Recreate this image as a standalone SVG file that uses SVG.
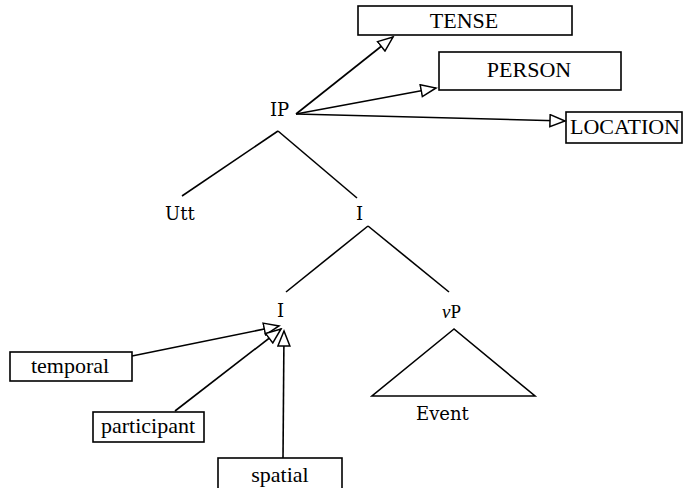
<svg xmlns="http://www.w3.org/2000/svg" width="683" height="488" viewBox="0 0 683 488">
  <defs>
    <style>
      .box { fill: #fff; stroke: #000; stroke-width: 1.6; }
      .btxt { font-family: "Liberation Serif", "Times New Roman", serif; font-size: 22px; fill: #000; text-anchor: middle; }
      .tree { font-family: "DejaVu Serif", "Liberation Serif", serif; font-size: 18px; fill: #000; }
      .edge { stroke: #000; stroke-width: 1.6; fill: none; }
      .arrow { stroke: #000; stroke-width: 1.6; fill: none; marker-end: url(#open); }
    </style>
    <marker id="open" markerUnits="userSpaceOnUse" markerWidth="18" markerHeight="14" refX="15" refY="6" orient="auto" viewBox="-1 -1 18 14">
      <path d="M0,0 L15,6 L0,12 Z" fill="#fff" stroke="#000" stroke-width="1.5" stroke-linejoin="miter"/>
    </marker>
  </defs>

  <!-- feature boxes -->
  <g id="tense">
    <rect class="box" x="358" y="6" width="214" height="29"/>
    <text class="btxt" x="464" y="28">TENSE</text>
  </g>
  <g id="person">
    <rect class="box" x="439" y="52" width="182" height="38"/>
    <text class="btxt" x="529" y="77">PERSON</text>
  </g>
  <g id="location">
    <rect class="box" x="566" y="112" width="116" height="31"/>
    <text class="btxt" x="625" y="134">LOCATION</text>
  </g>
  <g id="temporal">
    <rect class="box" x="10" y="352" width="122" height="29"/>
    <text class="btxt" x="70" y="373">temporal</text>
  </g>
  <g id="participant">
    <rect class="box" x="93" y="412" width="111" height="30"/>
    <text class="btxt" x="148" y="433">participant</text>
  </g>
  <g id="spatial">
    <rect class="box" x="218" y="458" width="124" height="32"/>
    <text class="btxt" x="280" y="482">spatial</text>
  </g>

  <!-- tree labels -->
  <g id="ip"><text class="tree" x="270" y="116">IP</text></g>
  <g id="utt"><text class="tree" x="165" y="220">Utt</text></g>
  <g id="i-bar"><text class="tree" x="356" y="220">I</text></g>
  <g id="i-head"><text class="tree" x="277" y="317">I</text></g>
  <g id="vp"><text class="tree" x="442" y="318"><tspan font-family="Liberation Serif, serif" font-style="italic" font-size="19">v</tspan><tspan font-family="Liberation Serif, serif" font-size="19">P</tspan></text></g>
  <g id="event"><text class="tree" x="416" y="420">Event</text></g>

  <!-- connectors -->
  <g id="connectors">
    <line class="edge" x1="278" y1="131" x2="182" y2="196"/>
    <line class="edge" x1="278" y1="131" x2="357" y2="198"/>
    <line class="edge" x1="368" y1="226" x2="286" y2="292"/>
    <line class="edge" x1="368" y1="226" x2="449" y2="292"/>
    <polygon class="edge" points="454,329 372,396 535,396"/>

    <line class="arrow" x1="296" y1="114" x2="393" y2="37"/>
    <line class="arrow" x1="296" y1="114" x2="436" y2="88"/>
    <line class="arrow" x1="296" y1="114" x2="565" y2="121"/>

    <line class="arrow" x1="132" y1="356" x2="279" y2="326"/>
    <line class="arrow" x1="175" y1="411" x2="281" y2="329"/>
    <line class="arrow" x1="283" y1="458" x2="284" y2="331"/>
  </g>
</svg>
